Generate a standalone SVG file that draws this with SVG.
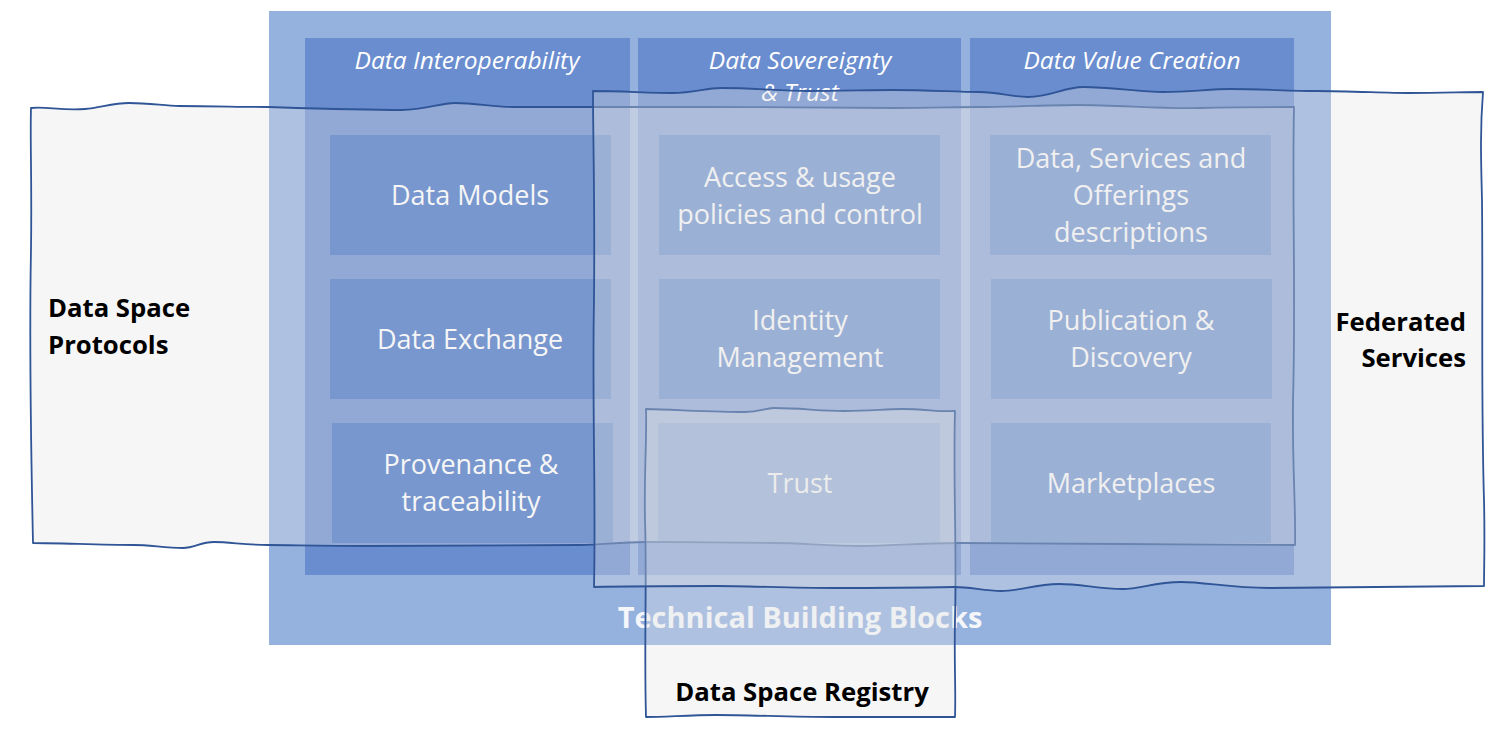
<svg xmlns="http://www.w3.org/2000/svg" width="1511" height="734" viewBox="0 0 1511 734">
<style>
.outer{fill:#95b1de}
.col{fill:#6a8dcf}
.box{fill:#4472c4}
.hdr{font-family:"Open Sans","DejaVu Sans",sans-serif;font-style:italic;font-size:24.5px;fill:#ffffff;text-anchor:middle}
.bt{font-family:"Open Sans","DejaVu Sans",sans-serif;font-size:27px;fill:#ffffff;text-anchor:middle}
.tbb{font-family:"Open Sans","DejaVu Sans",sans-serif;font-weight:bold;font-size:29px;fill:#f4f6fa;text-anchor:middle}
.ov{fill:#e4e4e4;fill-opacity:0.33;stroke:#2f5597;stroke-width:1.8;stroke-linejoin:round}
.lbl{font-family:"Open Sans","DejaVu Sans",sans-serif;font-weight:bold;font-size:25.7px;fill:#000000}
</style>
<rect width="1511" height="734" fill="#ffffff"/>
<g id="technical-building-blocks">
<rect class="outer" x="269" y="11" width="1062" height="634"/>
<text class="tbb" x="800" y="628">Technical Building Blocks</text>
</g>
<g id="col-interoperability">
<rect class="col" x="305" y="38" width="325" height="537"/>
<text class="hdr" x="467" y="69">Data Interoperability</text>
</g>
<g id="col-sovereignty">
<rect class="col" x="638" y="38" width="323" height="537"/>
<text class="hdr" x="800" y="69">Data Sovereignty</text>
<text class="hdr" x="800" y="101">&amp; Trust</text>
</g>
<g id="col-value">
<rect class="col" x="970" y="38" width="324" height="537"/>
<text class="hdr" x="1132" y="69">Data Value Creation</text>
</g>
<g id="box-data-models">
<rect class="box" x="330" y="135" width="281" height="120"/>
<text class="bt" x="470" y="205">Data Models</text>
</g>
<g id="box-data-exchange">
<rect class="box" x="330" y="279" width="281" height="120"/>
<text class="bt" x="470" y="349">Data Exchange</text>
</g>
<g id="box-provenance">
<rect class="box" x="332" y="423" width="281" height="120"/>
<text class="bt" x="471" y="474">Provenance &amp;</text>
<text class="bt" x="471" y="511">traceability</text>
</g>
<g id="box-access">
<rect class="box" x="659" y="135" width="281" height="120"/>
<text class="bt" x="800" y="187">Access &amp; usage</text>
<text class="bt" x="800" y="224">policies and control</text>
</g>
<g id="box-identity">
<rect class="box" x="659" y="279" width="281" height="120"/>
<text class="bt" x="800" y="330">Identity</text>
<text class="bt" x="800" y="367">Management</text>
</g>
<g id="box-trust">
<rect class="box" x="658" y="423" width="282" height="120"/>
<text class="bt" x="800" y="493">Trust</text>
</g>
<g id="box-descriptions">
<rect class="box" x="990" y="135" width="281" height="120"/>
<text class="bt" x="1131" y="168">Data, Services and</text>
<text class="bt" x="1131" y="205">Offerings</text>
<text class="bt" x="1131" y="242">descriptions</text>
</g>
<g id="box-publication">
<rect class="box" x="991" y="279" width="281" height="120"/>
<text class="bt" x="1131" y="330">Publication &amp;</text>
<text class="bt" x="1131" y="367">Discovery</text>
</g>
<g id="box-marketplaces">
<rect class="box" x="991" y="423" width="280" height="120"/>
<text class="bt" x="1131" y="493">Marketplaces</text>
</g>
<g id="data-space-protocols">
<path class="ov" d="M31,108 C45,106 62,111 85,109 C100,108 112,103 129,103 C150,103 165,106 179,106 C215,106 240,107 268,107 C300,108 360,110 402,110 C425,110 440,103 455,103 C475,103 495,107 513,107 C545,107 570,107 599,107 C640,107 670,107 703,107 C770,107 850,108 893,108 C930,108 955,107 979,107 C1010,107 1050,105 1077,105 C1120,105 1160,109 1200,108 C1240,107 1270,107 1294,107 C1292,200 1296,300 1293,400 C1292,460 1296,510 1295,545 C1240,545 1170,544 1123,544 C1060,544 1000,543 960,543 C920,543 890,546 862,546 C830,546 800,543 774,543 C740,543 690,542 646,542 C620,542 600,545 580,545 C500,546 420,546 370,546 C320,546 290,545 268,545 C245,545 230,542 214,542 C200,542 195,548 183,548 C165,548 150,545 134,545 C100,545 60,543 33,543 C31,450 29,350 31,250 C32,180 30,140 31,108 Z"/>
<text class="lbl" x="48" y="317">Data Space</text>
<text class="lbl" x="48" y="354">Protocols</text>
</g>
<g id="data-space-registry">
<path class="ov" d="M646,409 C680,410 720,412 745,412 C760,412 765,408 774,408 C800,408 820,411 844,411 C870,411 885,409 902,409 C925,409 940,412 955,411 C953,480 957,550 955,620 C954,660 956,690 955,717 C915,717 870,717 833,717 C790,717 750,715 716,715 C690,715 665,717 646,717 C644,650 647,580 645,520 C644,470 647,440 646,409 Z"/>
<text class="lbl" x="802" y="701" text-anchor="middle">Data Space Registry</text>
</g>
<g id="federated-services">
<path class="ov" d="M593,91 C620,91 650,93 672,93 C695,93 705,88 721,88 C755,88 780,91 807,91 C840,91 870,90 893,90 C930,90 955,92 979,92 C1000,92 1010,97 1028,97 C1050,97 1065,87 1083,87 C1110,87 1140,92 1163,92 C1190,92 1210,89 1230,89 C1260,89 1290,91 1316,91 C1350,91 1385,93 1408,93 C1440,93 1465,92 1483,92 C1480,130 1481,160 1482,200 C1483,300 1481,400 1484,500 C1485,540 1484,570 1484,586 C1400,587 1320,588 1269,588 C1230,588 1205,582 1181,582 C1155,582 1140,589 1123,589 C1100,589 1080,584 1059,584 C1035,584 1020,591 1001,591 C985,591 970,587 955,587 C900,588 860,588 833,588 C790,588 750,586 716,586 C670,586 630,586 594,587 C596,500 592,400 594,300 C595,200 593,140 593,91 Z"/>
<text class="lbl" x="1466" y="331" text-anchor="end">Federated</text>
<text class="lbl" x="1466" y="367" text-anchor="end">Services</text>
</g>
<g id="connectors"/>
</svg>
